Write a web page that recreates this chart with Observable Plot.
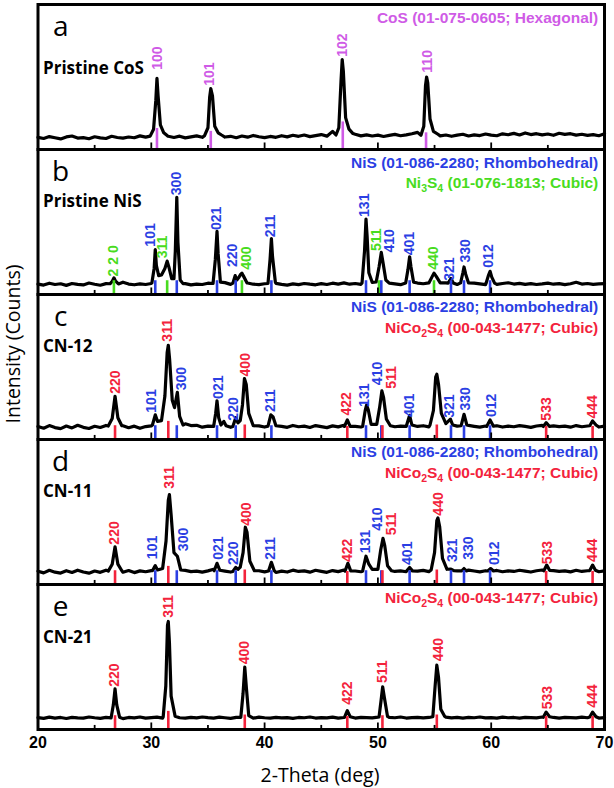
<!DOCTYPE html>
<html><head><meta charset="utf-8">
<script src="https://cdn.jsdelivr.net/npm/d3@7"></script>
<script src="https://cdn.jsdelivr.net/npm/@observablehq/plot@0.6"></script>
<style>html,body{margin:0;padding:0;background:#fff;}</style>
</head><body><div id="chart"></div>
<script>
// ---------- data (intensity in % of panel height) ----------
const panels = ["a", "b", "c", "d", "e"];
const sampleNames = ["Pristine CoS", "Pristine NiS", "CN-12", "CN-11", "CN-21"];
const sampleNameY = [55.6, 64, 64, 64, 63.5];
const xTickLabels = [20, 30, 40, 50, 60, 70];
const minorTicks = [25, 35, 45, 55, 65];
const majorTicks = [30, 40, 50, 60];

// reference patterns
const cosPos = [30.5, 35.25, 46.9, 54.25];
const cosHkl = ["100", "101", "102", "110"];
const cosTickH = [14.5, 12.5, 19, 11.5];
const nisPos = [30.35, 32.25, 35.8, 37.45, 40.6, 48.95, 50.3, 52.8, 56.45, 57.6, 59.9];
const nisHkl = ["101", "300", "021", "220", "211", "131", "410", "401", "321", "330", "012"];
const ni3s4Pos = [26.7, 31.4, 38.0, 50.1, 54.95];
const ni3s4Hkl = ["220", "311", "400", "511", "440"];
const ncoPos = [26.8, 31.5, 38.25, 47.3, 50.4, 55.2, 64.85, 68.95];
const ncoHkl = ["220", "311", "400", "422", "511", "440", "533", "444"];
const ncoTickH = [9.5, 12.5, 10, 9, 9.5, 10, 9, 9];

// baseline readings every 0.5 deg from 20 to 70
const baseStart = 20, baseStep = 0.5;
const aBase = [8.4,7.6,8.9,8.1,7.3,8.7,9.3,7.9,8.2,7.4, 8.8,8.0,7.6,9.1,8.3,7.8,8.6,8.1,9.4,8.5,
 9.0,9.6,10.2,9.1,8.3,9.2,8.0,8.7,9.4,8.4, 9.9,10.8,9.5,8.6,9.1,8.1,9.3,8.5,9.7,8.8,
 8.2,9.0,8.4,9.5,8.7,9.8,9.1,10.0,8.9,9.6, 10.3,9.2,12.5,11.0,10.6,9.8,10.5,9.4,10.1,9.3,
 9.9,9.0,9.7,10.4,9.5,10.1,10.9,11.8,10.4,9.7, 10.2,9.4,10.0,9.1,9.9,10.5,9.3,10.1,9.6,10.7,
 9.9,9.5,10.8,10.2,11.1,10.0,11.4,10.3,10.9,10.1, 10.7,9.8,11.2,10.4,10.9,9.9,10.5,9.7,10.3,9.5, 10.8];
const bBase = [7.2,6.5,7.8,6.9,7.4,6.3,7.6,7.0,6.6,7.9, 7.1,6.4,7.5,6.8,7.7,8.5,7.2,6.7,7.3,6.9,
 7.6,9.5,10.5,9.0,7.4,6.8,7.5,6.6,7.2,6.9, 7.8,7.1,7.5,8.2,7.0,6.7,7.3,7.9,7.1,6.8,
 7.4,6.9,7.7,7.0,6.5,7.3,6.8,7.6,7.1,6.7, 7.5,6.9,7.8,7.2,8.0,7.1,7.6,7.0,7.4,8.3,
 7.5,6.9,7.8,7.3,6.8,7.7,7.1,7.9,7.4,7.0, 7.6,7.2,8.0,7.3,6.9,7.5,7.1,7.8,7.3,6.8,
 7.4,7.0,7.6,8.1,7.2,7.7,7.0,7.5,6.9,7.3, 7.8,7.1,7.5,6.8,7.4,8.4,7.2,7.6,7.0,7.3, 7.5];
const cBase = [9.0,7.8,9.6,8.2,7.5,9.3,8.0,9.8,8.4,7.6, 9.1,8.3,9.7,7.9,8.8,9.5,8.1,9.2,7.7,8.9,
 9.4,8.2,9.9,8.6,9.3,11.5,10.8,9.6,9.8,8.5, 9.2,8.0,9.6,9.0,8.4,10.2,11.0,9.3,8.7,9.4,
 8.6,9.5,8.1,9.0,8.4,9.7,8.8,9.2,8.3,9.6, 8.9,8.2,9.4,8.7,9.8,8.4,9.1,8.6,9.5,8.8,
 9.3,8.5,9.9,8.8,9.2,8.6,9.7,9.0,9.5,8.7, 9.4,8.9,9.6,8.4,9.2,8.8,9.7,9.1,8.5,9.3,
 8.9,9.5,8.6,9.2,8.8,9.6,9.0,8.4,9.3,9.8, 8.7,9.4,8.9,9.2,8.5,9.6,8.8,9.3,9.1,8.6, 9.2];
const dBase = [9.2,8.0,9.8,8.5,7.9,9.5,8.3,9.9,8.6,7.8, 9.3,8.4,9.9,8.1,9.0,8.5,9.6,8.2,9.4,8.8,
 9.6,8.4,9.1,8.7,9.5,8.3,9.7,8.9,9.2,8.5, 9.4,10.5,9.8,9.2,8.6,9.3,8.8,10.2,8.9,9.5,
 8.7,9.6,8.3,9.2,8.6,9.9,9.0,9.4,8.5,9.8, 9.1,8.4,9.6,8.9,10.0,8.6,9.3,8.8,9.7,9.0,
 9.5,8.7,10.1,9.0,9.4,8.8,9.9,9.2,9.7,8.9, 9.6,9.1,9.8,8.6,9.4,9.0,9.9,9.3,8.7,9.5,
 9.1,9.7,8.8,9.4,9.0,9.8,9.2,8.6,9.5,10.0, 8.9,9.6,9.1,9.4,8.7,9.8,9.0,9.5,9.3,8.8, 9.4];
const eBase = [8.2,7.7,8.5,7.9,8.3,7.6,8.4,8.0,7.8,8.6, 8.1,7.7,8.4,7.9,8.2,7.5,8.3,8.0,8.6,7.8,
 8.2,8.5,7.9,8.3,8.8,8.1,7.8,8.4,8.0,8.6, 8.2,7.9,8.5,8.1,7.7,8.4,8.0,8.3,7.8,8.5,
 8.1,7.9,8.4,8.0,8.2,7.7,8.3,8.1,8.6,7.9, 8.2,8.0,8.5,7.8,8.3,8.1,7.9,8.4,8.2,8.0,
 8.5,7.8,8.3,8.1,8.6,7.9,8.2,8.4,8.0,8.3, 7.8,8.2,8.5,8.0,8.3,7.9,8.4,8.1,8.6,8.0,
 8.2,7.9,8.5,8.1,8.3,7.8,8.4,8.2,8.0,8.6, 8.1,8.3,7.9,8.4,8.2,8.0,8.5,8.1,8.3,7.9, 8.2];

// peak profiles [2theta, intensity]
const aPeaks = [
 [[29.9,9.2],[30.2,14],[30.4,34],[30.5,49],[30.6,37],[30.8,17],[31.1,11.5],[31.4,9.6]],
 [[34.7,9.5],[35.0,15],[35.15,36],[35.25,42],[35.4,37],[35.6,16],[35.9,11.5],[36.2,10]],
 [[46.3,10],[46.55,15],[46.75,48],[46.85,62],[46.95,54],[47.15,22],[47.45,14],[47.8,11]],
 [[53.8,9.8],[54.05,16],[54.2,44],[54.3,50],[54.4,46],[54.6,21],[54.9,12.5],[55.3,10.5]]];
const bPeaks = [
 [[26.35,7.4],[26.55,9],[26.7,11.5],[26.85,9.2],[27.1,7.3]],
 [[30.05,8],[30.25,18],[30.35,31],[30.45,20],[30.65,13],[30.9,13.5],[31.2,18],[31.4,23],[31.55,19],[31.8,11],[32.0,11],[32.12,30],[32.25,67],[32.35,36],[32.55,10],[32.8,7.5]],
 [[35.45,7.6],[35.65,24],[35.8,43.5],[35.9,28],[36.1,8.5]],
 [[37.2,7.8],[37.4,13],[37.55,10],[37.7,11.5],[37.9,14],[38.0,14.7],[38.15,12.5],[38.45,8]],
 [[40.3,7.6],[40.48,24],[40.6,38.5],[40.7,26],[40.95,8.5]],
 [[48.6,8],[48.82,30],[48.95,52],[49.05,40],[49.2,15],[49.45,9.5]],
 [[49.85,8.6],[50.1,19],[50.3,29],[50.45,22],[50.7,10]],
 [[52.45,8],[52.65,17],[52.8,26],[52.92,19],[53.15,8.5]],
 [[54.5,8],[54.8,12.5],[54.95,14.7],[55.15,12.5],[55.5,8]],
 [[56.2,7.8],[56.45,11],[56.65,8]],
 [[57.3,8],[57.5,15],[57.6,19],[57.75,14],[58.0,8]],
 [[59.55,7.8],[59.75,13],[59.9,16],[60.05,12],[60.3,7.8]]];
const cPeaks = [
 [[26.2,9.3],[26.55,14.5],[26.8,29.8],[27.05,15],[27.4,9.5]],
 [[30.1,10],[30.35,17],[30.55,12.5],[30.9,13],[31.2,30],[31.4,60],[31.5,65],[31.62,55],[31.85,27],[32.05,22],[32.3,32.5],[32.5,16],[32.8,10]],
 [[35.5,9],[35.68,18],[35.8,26.7],[35.95,15],[36.15,10],[36.4,12.5],[36.6,9.5]],
 [[37.2,9],[37.45,15],[37.65,11.5],[37.85,13],[38.05,24],[38.22,42],[38.38,38],[38.6,18],[39.0,9.5]],
 [[40.3,9.2],[40.55,17],[40.75,15.5],[41.0,9.5]],
 [[47.05,9],[47.3,13.5],[47.55,9]],
 [[48.65,9],[48.88,20],[49.0,23.7],[49.15,20.5],[49.4,10.5],[49.9,10.5],[50.15,22],[50.35,33.5],[50.5,29],[50.75,14],[51.1,9.5]],
 [[52.5,9],[52.8,16.7],[53.0,10]],
 [[54.6,10],[54.9,20],[55.1,43],[55.2,45],[55.35,38],[55.6,18],[56.0,11],[56.4,14],[56.6,10]],
 [[57.35,9.5],[57.6,17.4],[57.85,10]],
 [[59.6,9],[59.9,13.5],[60.2,9.2]],
 [[64.6,9],[64.85,11.6],[65.15,9]],
 [[68.7,9.5],[68.95,12.8],[69.25,10]]];
const dPeaks = [
 [[26.2,9.2],[26.55,14],[26.8,26],[27.05,14],[27.4,9.5]],
 [[30.1,9.5],[30.35,13],[30.55,10],[31.0,11],[31.3,30],[31.5,58],[31.6,62],[31.75,48],[32.0,22],[32.3,19.5],[32.6,10]],
 [[35.55,9.5],[35.8,14.6],[36.05,9.8]],
 [[37.2,9],[37.45,11.8],[37.65,10.5],[37.85,12],[38.1,22],[38.3,39.5],[38.45,36],[38.7,16],[39.1,9.5]],
 [[40.35,9.3],[40.6,15.3],[40.85,9.5]],
 [[47.1,9.2],[47.35,14.6],[47.6,9.4]],
 [[48.65,9.2],[48.95,19.5],[49.2,14],[49.5,10.5],[50.0,10.5],[50.25,24],[50.45,31.8],[50.6,27],[50.85,13],[51.2,9.5]],
 [[52.55,9.4],[52.8,11.8],[53.05,9.4]],
 [[54.7,10],[55.0,22],[55.2,44],[55.3,45.9],[55.45,40],[55.7,18],[56.1,10.5],[56.45,10.6],[56.7,9.5]],
 [[57.4,9.4],[57.6,11],[57.8,9.4]],
 [[59.7,9.3],[59.95,11],[60.2,9.3]],
 [[64.65,9.5],[64.9,13.4],[65.15,9.8]],
 [[68.7,9.6],[68.95,13.4],[69.2,9.8]]];
const ePeaks = [
 [[26.45,8],[26.65,17],[26.8,28],[26.95,17],[27.2,8.5]],
 [[31.05,8.8],[31.28,30],[31.43,72],[31.5,74.5],[31.6,60],[31.75,23],[32.1,9.2]],
 [[37.9,8.4],[38.1,25],[38.25,43],[38.4,28],[38.6,9.6]],
 [[47.05,8.3],[47.3,13],[47.55,8.8]],
 [[50.1,8.6],[50.28,20],[50.42,29.4],[50.57,22],[50.85,9]],
 [[54.85,8.8],[55.05,30],[55.2,44.4],[55.35,36],[55.55,14],[55.9,9]],
 [[64.6,8.4],[64.85,12],[65.15,8.8]],
 [[68.7,8.6],[68.95,12],[69.25,8.8]]];

// hkl annotations: [2theta, label foot intensity, text, phase]
const aLabels = [[30.55,55,"100","cos"],[35.1,44,"101","cos"],[46.88,64,"102","cos"],[54.4,53,"110","cos"]];
const bLabels = [[26.65,12.5,"2 2 0","ni3s4"],[29.95,33,"101","nis"],[30.95,25,"311","ni3s4"],[32.2,68.5,"300","nis"],
 [35.75,44.5,"021","nis"],[37.2,19,"220","nis"],[38.4,17,"400","ni3s4"],[40.55,39.5,"211","nis"],
 [48.85,53.5,"131","nis"],[49.85,30,"511","ni3s4"],[51.05,29,"410","nis"],[52.8,27,"401","nis"],
 [54.95,17,"440","ni3s4"],[56.3,9.5,"321","nis"],[57.7,22,"330","nis"],[59.8,18.5,"012","nis"]];
const cLabels = [[26.8,31.5,"220","nco"],[30.0,18.5,"101","nis"],[31.4,67.5,"311","nco"],[32.65,34,"300","nis"],
 [35.9,28,"021","nis"],[37.25,13,"220","nis"],[38.3,43.5,"400","nco"],[40.55,19,"211","nis"],
 [47.25,16.5,"422","nco"],[48.8,22.5,"131","nis"],[49.95,37.5,"410","nis"],[51.2,35,"511","nco"],
 [52.8,15.5,"401","nis"],[56.3,15,"321","nis"],[57.7,20,"330","nis"],[60.0,15.5,"012","nis"],
 [64.9,13,"533","nco"],[68.9,14.5,"444","nco"]];
const dLabels = [[26.75,27.5,"220","nco"],[30.1,17.5,"101","nis"],[31.6,66,"311","nco"],[32.85,23,"300","nis"],
 [35.9,17,"021","nis"],[37.25,13.5,"220","nis"],[38.4,40.5,"400","nco"],[40.55,17,"211","nis"],
 [47.3,15.5,"422","nco"],[48.9,21.5,"131","nis"],[49.95,37,"410","nis"],[51.2,34,"511","nco"],
 [52.6,13.5,"401","nis"],[55.35,47.5,"440","nco"],[56.6,15.5,"321","nis"],[58.0,17,"330","nis"],
 [60.25,13.5,"012","nis"],[64.95,14,"533","nco"],[68.9,15.5,"444","nco"]];
const eLabels = [[26.75,29.5,"220","nco"],[31.5,77,"311","nco"],[38.2,45,"400","nco"],[47.3,17,"422","nco"],
 [50.4,32,"511","nco"],[55.35,47,"440","nco"],[64.95,14,"533","nco"],[68.9,15,"444","nco"]];

// legend cards: [panel, text, phase, intensity level]
const legendRows = [
 ["a","CoS (01-075-0605; Hexagonal)","cos",91],
 ["b","NiS (01-086-2280; Rhombohedral)","nis",91],
 ["b","Ni_3S_4 (01-076-1813; Cubic)","ni3s4",77],
 ["c","NiS (01-086-2280; Rhombohedral)","nis",91.5],
 ["c","NiCo_2S_4 (00-043-1477; Cubic)","nco",77],
 ["d","NiS (01-086-2280; Rhombohedral)","nis",91.5],
 ["d","NiCo_2S_4 (00-043-1477; Cubic)","nco",77],
 ["e","NiCo_2S_4 (00-043-1477; Cubic)","nco",91]];

// ---------- styles ----------
const phaseColor = {cos: "#cf5be6", nis: "#2b3fe3", ni3s4: "#48dc20", nco: "#f3233c"};

// ---------- assemble tables ----------
function trace(panel, base, peaks) {
  const rows = [];
  base.forEach((y, i) => {
    const x = baseStart + i * baseStep;
    if (!peaks.some(p => x >= p[0][0] && x <= p[p.length - 1][0])) rows.push({panel, x, y});
  });
  peaks.forEach(p => p.forEach(([x, y]) => rows.push({panel, x, y})));
  return rows.sort((u, v) => u.x - v.x);
}
const traces = [
  ...trace("a", aBase, aPeaks), ...trace("b", bBase, bPeaks), ...trace("c", cBase, cPeaks),
  ...trace("d", dBase, dPeaks), ...trace("e", eBase, ePeaks)];

function ticks(panel, pos, phase, heights) {
  return pos.map((x, i) => ({panel, x, h: heights ? heights[i] : 9.5, color: phaseColor[phase]}));
}
const refTicks = [
  ...ticks("a", cosPos, "cos", cosTickH),
  ...ticks("b", ni3s4Pos, "ni3s4"), ...ticks("b", nisPos, "nis"),
  ...ticks("c", nisPos, "nis"), ...ticks("c", ncoPos, "nco", ncoTickH),
  ...ticks("d", nisPos, "nis"), ...ticks("d", ncoPos, "nco", ncoTickH),
  ...ticks("e", ncoPos, "nco", ncoTickH)];

const hkl = [];
[[ "a", aLabels], ["b", bLabels], ["c", cLabels], ["d", dLabels], ["e", eLabels]].forEach(([panel, L]) =>
  L.forEach(([x, y, text, ph]) => hkl.push({panel, x, y, text, color: phaseColor[ph]})));

const legends = legendRows.map(([panel, text, ph, y]) => ({panel, text, y, color: phaseColor[ph]}));
const letters = panels.map(p => ({panel: p, text: p}));
const names = panels.map((p, i) => ({panel: p, text: sampleNames[i], y: sampleNameY[i]}));

// ---------- plot ----------
const svg = Plot.plot({
  width: 614,
  height: 788,
  marginLeft: 37.5,
  marginRight: 10,
  marginTop: 4,
  marginBottom: 59,
  x: {domain: [20, 70]},
  y: {domain: [0, 100], axis: null},
  fy: {domain: panels, padding: 0, axis: null},
  color: {type: "identity"},
  marks: [
    Plot.line(traces, {x: "x", y: "y", fy: "panel", stroke: "#000", strokeWidth: 3.2, strokeLinejoin: "round"}),
    Plot.ruleX(refTicks, {x: "x", y1: 0, y2: "h", fy: "panel", stroke: "color", strokeWidth: 2.6}),
    Plot.ruleX(minorTicks, {x: d => d, y1: 0, y2: 2.8, stroke: "#000", strokeWidth: 1.8}),
    Plot.ruleX(majorTicks, {x: d => d, y1: 0, y2: 4.5, stroke: "#000", strokeWidth: 1.8}),
    Plot.text(hkl, {x: "x", y: "y", fy: "panel", text: "text", fill: "color", rotate: -90, textAnchor: "start",
      fontSize: 14, fontWeight: "bold", fontFamily: "Liberation Sans"}),
    Plot.text(legends, {x: 69.45, y: "y", fy: "panel", text: "text", fill: "color", textAnchor: "end",
      fontSize: 15.5, fontWeight: "bold", fontFamily: "Liberation Sans"}),
    Plot.text(letters, {x: 22, y: 84.5, fy: "panel", text: "text", fill: "#000", fontSize: 28, fontFamily: "Open Sans"}),
    Plot.text(names, {x: 20.44, y: "y", fy: "panel", text: "text", fill: "#000", textAnchor: "start",
      fontSize: 17, fontWeight: "bold", fontFamily: "Open Sans"}),
    Plot.frame({stroke: "#000", strokeWidth: 3}),
    Plot.axisX({ticks: xTickLabels, tickSize: 0, tickPadding: 7, label: null, fontSize: 16, fontWeight: "bold",
      fontFamily: "Liberation Sans", color: "#000"})
  ]
});

// subscripts in chemical formulas
d3.select(svg).selectAll("text").each(function () {
  const s = this.textContent;
  if (!s.includes("_")) return;
  const el = d3.select(this);
  el.text(null);
  s.split(/_(\d)/).forEach((p, i) => {
    if (p === "") return;
    const ts = el.append("tspan").text(p);
    if (i % 2 === 1) ts.attr("font-size", "68%").attr("dy", 4);
    else if (i > 0) ts.attr("dy", -4);
  });
});

// axis titles
const g = d3.select(svg);
g.append("text").attr("transform", "translate(13,344) rotate(-90)").attr("text-anchor", "middle")
  .attr("dy", "0.35em").attr("font-family", "Open Sans").attr("font-size", 19.5).attr("fill", "#000")
  .text("Intensity (Counts)");
g.append("text").attr("x", 320).attr("y", 775).attr("text-anchor", "middle")
  .attr("dy", "0.35em").attr("font-family", "Open Sans").attr("font-size", 19.5).attr("fill", "#000")
  .text("2-Theta (deg)");

document.getElementById("chart").appendChild(svg);
</script></body></html>
